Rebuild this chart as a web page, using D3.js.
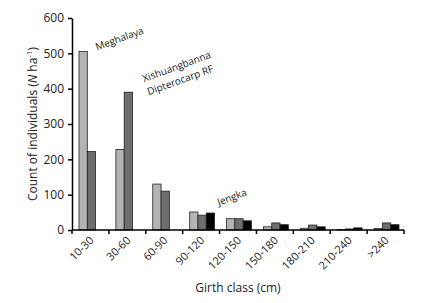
<!DOCTYPE html>
<html>
<head>
<meta charset="utf-8">
<script src="https://cdn.jsdelivr.net/npm/d3@7"></script>
<style>
  body { margin: 0; background: #fff; }
  text { font-family: "Open Sans", "Liberation Sans", sans-serif; fill: #222; }
</style>
</head>
<body>
<div id="chart"></div>
<script>
// girth classes and tree counts per site
const girthClasses = ['10-30', '30-60', '60-90', '90-120', '120-150', '150-180', '180-210', '210-240', '>240'];
const meghalaya = [505, 228, 130, 51, 32, 9, 5, 1, 4];
const xishuangbanna = [222, 390, 110, 42, 32, 20, 14, 3, 20];
const jengka = [0, 0, 0, 48, 26, 15, 9, 6, 15];
const yTicks = [0, 100, 200, 300, 400, 500, 600];

const width = 426, height = 303;
const margin = {left: 72, right: 22, top: 18, bottom: 73};

const svg = d3.select('#chart').append('svg')
    .attr('width', width)
    .attr('height', height);

const x = d3.scaleBand()
    .domain(girthClasses)
    .range([margin.left, width - margin.right]);

const series = [
    {name: 'Meghalaya', values: meghalaya, color: '#b4b4b4'},
    {name: 'Xishuangbanna', values: xishuangbanna, color: '#6e6e6e'},
    {name: 'Jengka', values: jengka, color: '#000'}
];

const xInner = d3.scaleBand()
    .domain(series.map(d => d.name))
    .range([7, x.bandwidth() - 5]);

const y = d3.scaleLinear()
    .domain([0, 600])
    .range([height - margin.bottom, margin.top]);

// bars
series.forEach(s => {
    svg.append('g').selectAll('rect')
        .data(s.values.map((v, i) => ({cls: girthClasses[i], v: v})).filter(d => d.v > 0))
        .join('rect')
        .attr('x', d => x(d.cls) + xInner(s.name))
        .attr('y', d => y(d.v))
        .attr('width', xInner.bandwidth())
        .attr('height', d => y(0) - y(d.v))
        .attr('fill', s.color)
        .attr('stroke', '#222')
        .attr('stroke-width', 0.8);
});

// y axis
const yAxis = svg.append('g')
    .attr('transform', 'translate(' + margin.left + ',0)')
    .call(d3.axisLeft(y).tickValues(yTicks).tickSize(4).tickSizeOuter(0));
yAxis.select('.domain').attr('stroke', '#000').attr('stroke-width', 1.5);
yAxis.selectAll('.tick line').attr('stroke', '#000').attr('stroke-width', 1.5);
yAxis.selectAll('.tick text').attr('font-size', 12).attr('x', -8)
    .style('font-family', '"Open Sans", sans-serif');

// x axis: ticks sit on the band edges
const xAxis = svg.append('g')
    .attr('transform', 'translate(0,' + y(0) + ')');
xAxis.append('line')
    .attr('x1', margin.left).attr('x2', width - margin.right)
    .attr('stroke', '#000').attr('stroke-width', 1.5);
xAxis.selectAll('line.tk')
    .data(girthClasses.concat(['end']))
    .join('line')
    .attr('class', 'tk')
    .attr('x1', (d, i) => margin.left + i * x.step())
    .attr('x2', (d, i) => margin.left + i * x.step())
    .attr('y1', 0).attr('y2', 4)
    .attr('stroke', '#000').attr('stroke-width', 1.5);
xAxis.selectAll('text')
    .data(girthClasses)
    .join('text')
    .attr('text-anchor', 'end')
    .attr('font-size', 11)
    .attr('transform', d => 'translate(' + (x(d) + x.bandwidth() / 2 + 4) + ',11) rotate(-45)')
    .text(d => d);

// axis titles
svg.append('text')
    .attr('x', 238)
    .attr('y', 292)
    .attr('text-anchor', 'middle')
    .attr('font-size', 12)
    .text('Girth class (cm)');

const yTitle = svg.append('text')
    .attr('transform', 'translate(37,' + ((margin.top + y(0)) / 2) + ') rotate(-90)')
    .attr('text-anchor', 'middle')
    .attr('font-size', 12);
yTitle.append('tspan').text('Count of individuals (');
yTitle.append('tspan').attr('font-style', 'italic').text('N');
yTitle.append('tspan').text(' ha');
yTitle.append('tspan').attr('font-size', 8).attr('dy', -5).text('-1');
yTitle.append('tspan').attr('dy', 5).text(')');

// site labels next to the bars
const siteLabels = [
    {lines: ['Meghalaya'], cls: '10-30', v: 505, dx: 25, dy: -1},
    {lines: ['Xishuangbanna', 'Dipterocarp RF'], cls: '30-60', v: 390, dx: 35, dy: -10},
    {lines: ['Jengka'], cls: '90-120', v: 52, dx: 36, dy: -6}
];
siteLabels.forEach(l => {
    const t = svg.append('text')
        .attr('font-size', 10)
        .attr('transform', 'translate(' + (x(l.cls) + l.dx) + ',' + (y(l.v) + l.dy) + ') rotate(-20)');
    l.lines.forEach((line, i) => {
        t.append('tspan')
            .attr('x', 0)
            .attr('dy', i === 0 ? 0 : 14)
            .text(line);
    });
});
</script>
</body>
</html>
